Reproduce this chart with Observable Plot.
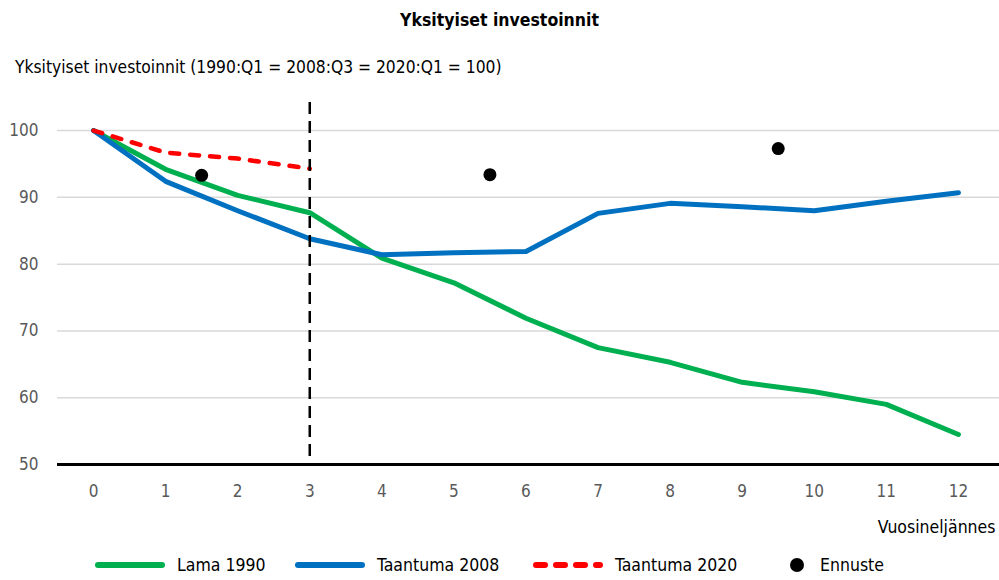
<!DOCTYPE html>
<html>
<head>
<meta charset="utf-8">
<script src="https://cdn.jsdelivr.net/npm/d3@7"></script>
<script src="https://cdn.jsdelivr.net/npm/@observablehq/plot@0.6"></script>
<style>
  body { margin: 0; background: #fff; }
  #wrap { position: relative; width: 999px; height: 580px; font-family: "Liberation Sans Narrow", "DejaVu Sans Condensed", "Noto Sans", sans-serif; color: #000; }
  #title { position: absolute; left: 0; top: 4px; width: 999px; text-align: center; font-weight: bold; font-size: 17.5px; line-height: 32px; }
  #subtitle { position: absolute; left: 15px; top: 54px; font-size: 17.3px; line-height: 26px; }
  #chart { position: absolute; left: 0; top: 94px; }
  #legend { position: absolute; left: 0; top: 552px; width: 999px; height: 26px; font-size: 17.5px; }
  .li { position: absolute; top: 0; height: 26px; line-height: 26px; }
</style>
</head>
<body>
<div id="wrap">
  <div id="title">Yksityiset investoinnit</div>
  <div id="subtitle">Yksityiset investoinnit (1990:Q1 = 2008:Q3 = 2020:Q1 = 100)</div>
  <div id="chart"></div>
  <div id="legend"></div>
</div>
<script>
const quarters = [0,1,2,3,4,5,6,7,8,9,10,11,12];
const lama1990 = [100,94.2,90.3,87.7,80.9,77.2,71.9,67.5,65.3,62.3,60.9,59.0,54.5];
const taantuma2008 = [100,92.4,88.0,83.8,81.4,81.7,81.9,87.6,89.1,88.6,88.0,89.4,90.7];
const taantuma2020Q = [0,1,2,3];
const taantuma2020 = [100,96.7,95.8,94.3];
const ennusteQ = [1.5,5.5,9.5];
const ennuste = [93.3,93.4,97.3];
const yTicks = [50,60,70,80,90,100];
const gridTicks = [60,70,80,90,100];
const markerQ = 3;
const seriesNames = ["Lama 1990","Taantuma 2008","Taantuma 2020","Ennuste"];
const colors = {"Lama 1990":"#00b050","Taantuma 2008":"#0070c0","Taantuma 2020":"#ff0000","Ennuste":"#000000"};

const green = quarters.map((q,i)=>({q, v:lama1990[i]}));
const blue = quarters.map((q,i)=>({q, v:taantuma2008[i]}));
const red = taantuma2020Q.map((q,i)=>({q, v:taantuma2020[i]}));
const dots = ennusteQ.map((q,i)=>({q, v:ennuste[i]}));

const font = '"Liberation Sans Narrow", "DejaVu Sans Condensed", sans-serif';

const plot = Plot.plot({
  width: 999,
  height: 450,
  marginLeft: 57,
  marginRight: 0,
  marginTop: 8,
  marginBottom: 80,
  style: {fontFamily: font, fontSize: "17px", background: "transparent"},
  x: {domain: [-0.5, 12.57], axis: null},
  y: {domain: [50, 104.2], axis: null},
  marks: [
    Plot.ruleY(gridTicks, {stroke: "#d9d9d9", strokeWidth: 1.5}),
    Plot.axisY(yTicks, {tickSize: 0, tickPadding: 19, fill: "#595959", fontSize: 17, label: null}),
    Plot.axisX(quarters, {tickSize: 0, tickPadding: 20, fill: "#595959", fontSize: 17, label: null}),
    Plot.text(["Vuosineljännes"], {frameAnchor: "bottom-right", dy: 68, dx: -4, fill: "#000", fontSize: 17.5, textAnchor: "end"}),
    Plot.line(green, {x: "q", y: "v", stroke: colors["Lama 1990"], strokeWidth: 5}),
    Plot.line(blue, {x: "q", y: "v", stroke: colors["Taantuma 2008"], strokeWidth: 5}),
    Plot.line(red, {x: "q", y: "v", stroke: colors["Taantuma 2020"], strokeWidth: 4.5, strokeDasharray: "9,11", strokeLinecap: "round"}),
    Plot.ruleX([markerQ], {stroke: "#000", strokeWidth: 2.5, strokeDasharray: "12,7"}),
    Plot.dot(dots, {x: "q", y: "v", r: 6.5, fill: "#000", stroke: null}),
    Plot.ruleY([50], {stroke: "#000", strokeWidth: 3})
  ]
});
document.getElementById("chart").appendChild(plot);

// legend
const legend = document.getElementById("legend");
const items = [
  {name: seriesNames[0], x: 95, kind: "line"},
  {name: seriesNames[1], x: 295, kind: "line"},
  {name: seriesNames[2], x: 533, kind: "dash"},
  {name: seriesNames[3], x: 788, kind: "dot"}
];
items.forEach(it => {
  const d = document.createElement("div");
  d.className = "li";
  d.style.left = it.x + "px";
  let sym;
  if (it.kind === "dot") {
    sym = `<svg width="20" height="26" style="vertical-align:top"><circle cx="9" cy="13" r="7" fill="${colors[it.name]}"/></svg>`;
    d.innerHTML = sym + `<span style="margin-left:12px">${it.name}</span>`;
  } else {
    const dash = it.kind === "dash" ? 'stroke-dasharray="9,11"' : '';
    sym = `<svg width="70" height="26" style="vertical-align:top"><line x1="3" y1="13" x2="67" y2="13" stroke="${colors[it.name]}" stroke-width="6" stroke-linecap="round" ${dash}/></svg>`;
    d.innerHTML = sym + `<span style="margin-left:12px">${it.name}</span>`;
  }
  legend.appendChild(d);
});
</script>
</body>
</html>
